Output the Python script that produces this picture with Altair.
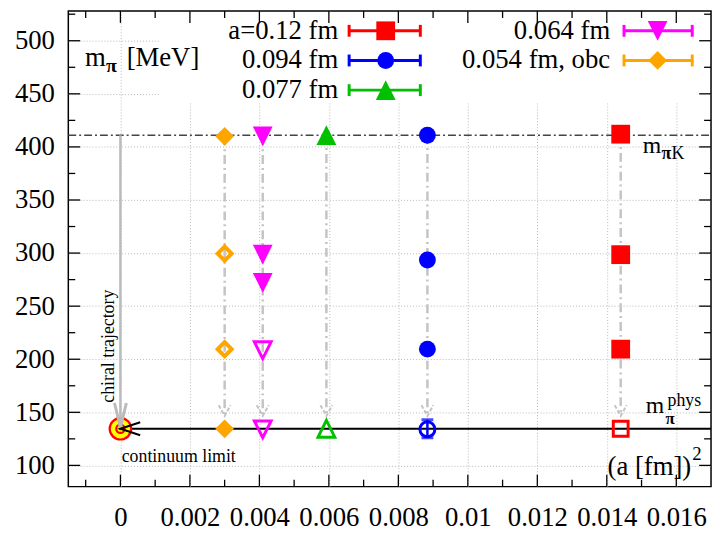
import altair as alt
import pandas as pd

# ---------------- data ----------------
SERIES = ["a=0.12 fm", "0.094 fm", "0.077 fm", "0.064 fm", "0.054 fm, obc"]
A2 = [0.0144, 0.008836, 0.005929, 0.004096, 0.003]          # (a [fm])^2
FILLED = [[412, 298.5, 209.5], [411, 293.5, 209.5], [411], [410, 298.5, 272], [410, 134.5]]
OPEN = [[134.5], [134], [134.5], [208.5, 134], [299.5, 209.5]]
COLORS = ["#ff0000", "#0000ff", "#00c000", "#ff00ff", "#ffa500"]
SHAPES = ["square", "circle", "M0,-1L1,1L-1,1Z", "M0,1L1,-1L-1,-1Z", "diamond"]
M_PIK = 411
M_PI_PHYS = 134.5
ARROW_TIP = 146.5
CONT_X, CONT_Y = 0.0, 134.5
BLUE_ERR = [126, 143]
X_TICKS = [0, 0.002, 0.004, 0.006, 0.008, 0.01, 0.012, 0.014, 0.016]
X_MINOR = [-0.001, 0.001, 0.003, 0.005, 0.007, 0.009, 0.011, 0.013, 0.015]
Y_TICKS = [100, 150, 200, 250, 300, 350, 400, 450, 500]
Y_MINOR = [125, 175, 225, 275, 325, 375, 425, 475, 525]
X_DOMAIN = [-0.0015, 0.017]
Y_DOMAIN = [80, 528]

W, H = 650, 481
FONT = "Times New Roman, Liberation Serif, DejaVu Serif, serif"
ONE = pd.DataFrame({"k": [0]})

XS = alt.Scale(domain=X_DOMAIN, nice=False, zero=False)
YS = alt.Scale(domain=Y_DOMAIN, nice=False, zero=False)
XAX = alt.Axis(values=X_TICKS, format="~g", grid=True, ticks=False, domain=False,
               labelPadding=18, title=None)
YAX = alt.Axis(values=Y_TICKS, grid=True, ticks=False, domain=False,
               labelPadding=14, title=None)


def X(f="x"):
    return alt.X(f, type="quantitative", scale=XS, axis=XAX, title=None)


def Y(f="y"):
    return alt.Y(f, type="quantitative", scale=YS, axis=YAX, title=None)


layers = []

# white key box (covers grid)
layers.append(alt.Chart(ONE).mark_rect(color="white").encode(
    x=alt.value(93), x2=alt.value(648), y=alt.value(2), y2=alt.value(93)))

# inward ticks
xmaj = pd.DataFrame({"v": X_TICKS})
xmin = pd.DataFrame({"v": X_MINOR})
ymaj = pd.DataFrame({"v": Y_TICKS})
ymin = pd.DataFrame({"v": Y_MINOR})
for df, L in [(xmaj, 12), (xmin, 7)]:
    layers.append(alt.Chart(df).mark_rule(color="black", strokeWidth=1.3).encode(
        x=X("v"), y=alt.value(H), y2=alt.value(H - L)))
    layers.append(alt.Chart(df).mark_rule(color="black", strokeWidth=1.3).encode(
        x=X("v"), y=alt.value(0), y2=alt.value(L)))
for df, L in [(ymaj, 12), (ymin, 7)]:
    layers.append(alt.Chart(df).mark_rule(color="black", strokeWidth=1.3).encode(
        y=Y("v"), x=alt.value(0), x2=alt.value(L)))
    layers.append(alt.Chart(df).mark_rule(color="black", strokeWidth=1.3).encode(
        y=Y("v"), x=alt.value(W), x2=alt.value(W - L)))

# m_piK dash-dot line
layers.append(alt.Chart(pd.DataFrame({"x": [X_DOMAIN[0]], "x2": [X_DOMAIN[1]], "y": [M_PIK]}))
              .mark_rule(color="#444444", strokeWidth=1.5, strokeDash=[8, 3, 2, 3])
              .encode(x=X("x"), x2="x2", y=Y("y")))

# gray dash-dot arrows from each ensemble down to the physical point
arr = pd.DataFrame({"x": A2, "top": [max(v) for v in FILLED], "tip": [ARROW_TIP] * len(A2)})
layers.append(alt.Chart(arr).mark_rule(color="#c4c4c4", strokeWidth=2.5, strokeDash=[9, 4, 2, 4])
              .encode(x=X("x"), y=Y("top"), y2="tip"))
layers.append(alt.Chart(arr).mark_point(shape="M-0.55,-1L0,0L0.55,-1", size=484, filled=False,
                                        stroke="#c4c4c4", strokeWidth=2, strokeDash=[4, 2],
                                        opacity=1)
              .encode(x=X("x"), y=Y("tip")))

# black physical line
layers.append(alt.Chart(pd.DataFrame({"x": [CONT_X], "x2": [X_DOMAIN[1]], "y": [M_PI_PHYS]}))
              .mark_rule(color="black", strokeWidth=2).encode(x=X("x"), x2="x2", y=Y("y")))

# continuum limit target
for d, c in [(27, "#ff0000"), (22, "#ffff00"), (12, "#ff0000"), (7, "#ffff00"), (3.5, "#ff0000")]:
    layers.append(alt.Chart(pd.DataFrame({"x": [CONT_X], "y": [CONT_Y]}))
                  .mark_circle(size=3.14159 * (d / 2) ** 2, color=c, opacity=1)
                  .encode(x=X("x"), y=Y("y")))

# chiral trajectory
layers.append(alt.Chart(pd.DataFrame({"x": [CONT_X], "y": [M_PIK], "y2": [CONT_Y + 1]}))
              .mark_rule(color="#bbbbbb", strokeWidth=2.5).encode(x=X("x"), y=Y("y"), y2="y2"))
layers.append(alt.Chart(pd.DataFrame({"x": [CONT_X], "y": [CONT_Y + 1]}))
              .mark_point(shape="M-0.24,-1L0,0L0.24,-1", size=2500, filled=False,
                          stroke="#bbbbbb", strokeWidth=3, opacity=1)
              .encode(x=X("x"), y=Y("y")))
layers.append(alt.Chart(pd.DataFrame({"x": [CONT_X], "y": [M_PI_PHYS]}))
              .mark_point(shape="M1,-0.33L0,0L1,0.33", size=1600, filled=False,
                          stroke="black", strokeWidth=2, opacity=1)
              .encode(x=X("x"), y=Y("y")))

# blue error bar at the physical point
eb = pd.DataFrame({"x": [A2[1]], "lo": [BLUE_ERR[0]], "hi": [BLUE_ERR[1]]})
layers.append(alt.Chart(eb).mark_rule(color=COLORS[1], strokeWidth=2.5)
              .encode(x=X("x"), y=Y("lo"), y2="hi"))
for c in ("lo", "hi"):
    layers.append(alt.Chart(eb).mark_tick(color=COLORS[1], thickness=3, size=12, orient="horizontal")
                  .encode(x=X("x"), y=Y(c)))

# data markers
FSIZE = [361, 290, 400, 400, 361]
OSIZE = [225, 230, 289, 289, 200]
OSW = [3, 3, 3, 3, 4]
for i in range(len(SERIES)):
    df = pd.DataFrame({"x": [A2[i]] * len(FILLED[i]), "y": FILLED[i]})
    layers.append(alt.Chart(df).mark_point(shape=SHAPES[i], size=FSIZE[i], filled=True,
                                           color=COLORS[i], opacity=1)
                  .encode(x=X("x"), y=Y("y")))
    df = pd.DataFrame({"x": [A2[i]] * len(OPEN[i]), "y": OPEN[i]})
    layers.append(alt.Chart(df).mark_point(shape=SHAPES[i], size=OSIZE[i], filled=False,
                                           stroke=COLORS[i], strokeWidth=OSW[i], opacity=1)
                  .encode(x=X("x"), y=Y("y")))

# ---------------- key ----------------
ROW_Y = [20, 50, 80]
for i, lab in enumerate(SERIES):
    col, row = (0, i) if i < 3 else (1, i - 3)
    ty = ROW_Y[row]
    tx = 273 if col == 0 else 548
    lx1, lx2, mx = (284, 356, 321) if col == 0 else (562, 631, 596)
    layers.append(alt.Chart(ONE).mark_text(text=lab, font=FONT, fontSize=27, align="right",
                                           baseline="alphabetic", color="black")
                  .encode(x=alt.value(tx), y=alt.value(ty + 8)))
    layers.append(alt.Chart(ONE).mark_rule(color=COLORS[i], strokeWidth=3)
                  .encode(x=alt.value(lx1), x2=alt.value(lx2), y=alt.value(ty)))
    for cx in (lx1, lx2):
        layers.append(alt.Chart(ONE).mark_rule(color=COLORS[i], strokeWidth=3)
                      .encode(x=alt.value(cx), y=alt.value(ty - 6), y2=alt.value(ty + 6)))
    layers.append(alt.Chart(ONE).mark_point(shape=SHAPES[i], size=FSIZE[i], filled=True,
                                            color=COLORS[i], opacity=1)
                  .encode(x=alt.value(mx), y=alt.value(ty)))


# ---------------- annotations ----------------
def txt(t, x, y, size=26, bold=False, align="left", baseline="alphabetic", angle=0):
    return alt.Chart(ONE).mark_text(text=t, font=FONT, fontSize=size,
                                    fontWeight="bold" if bold else "normal",
                                    align=align, baseline=baseline, angle=angle,
                                    color="black").encode(x=alt.value(x), y=alt.value(y))


layers += [
    txt("m", 17, 56, size=27), txt("π", 38, 62, size=20, bold=True), txt("[MeV]", 59, 56, size=27),
    txt("m", 581, 144, size=24), txt("π", 600, 150, size=18, bold=True), txt("K", 610, 150, size=18),
    txt("m", 584, 407, size=24), txt("π", 604, 418, size=17, bold=True), txt("phys", 606, 399, size=18),
    txt("(a [fm])", 630, 469, size=27, align="right"), txt("2", 631, 454, size=19),
    txt("chiral trajectory", 41, 339, size=18, align="center", baseline="middle", angle=270),
    txt("continuum limit", 54, 451, size=18, baseline="middle"),
]

chart = alt.layer(*layers).properties(
    width=W, height=H,
    padding={"left": 61, "top": 0, "right": 2, "bottom": 58},
    autosize=alt.AutoSizeParams(type="none"),
).configure_view(stroke="black", strokeWidth=1.5).configure_axis(
    labelFont=FONT, labelFontSize=27, labelColor="black",
    gridColor="#b8b8b8", gridDash=[1, 2], gridWidth=1,
)

chart.save("out.html", embed_options={"renderer": "svg", "actions": False})
